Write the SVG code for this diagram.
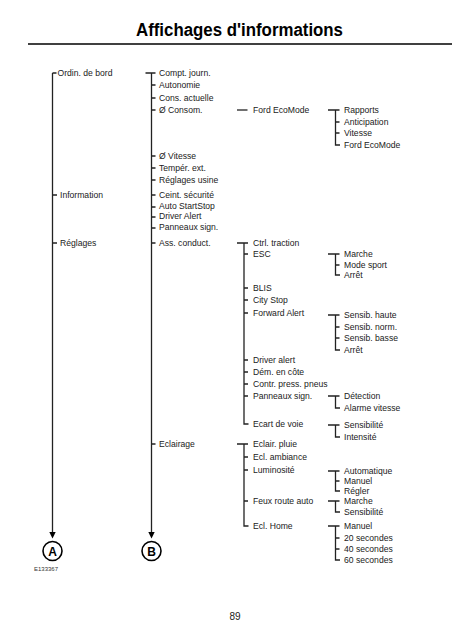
<svg xmlns="http://www.w3.org/2000/svg" width="466" height="640" viewBox="0 0 466 640">
<style>
.t{font-family:"Liberation Sans",Arial,Helvetica,sans-serif;font-size:8.6px;fill:#1a1a1a}
.ln{fill:none;stroke:#222;stroke-width:1.3}
.title{font-family:"Liberation Sans",Arial,sans-serif;font-size:18px;font-weight:bold;fill:#000}
.circ{fill:#fff;stroke:#000;stroke-width:1.6}
.cl{font-family:"Liberation Sans",Arial,sans-serif;font-size:12px;font-weight:bold;fill:#000;text-anchor:middle}
</style>
<rect width="466" height="640" fill="#fff"/>
<g id="title">
<text class="title" x="136" y="36" textLength="207" lengthAdjust="spacingAndGlyphs">Affichages d'informations</text>
<line x1="28" y1="44" x2="452" y2="44" stroke="#000" stroke-width="1.3"/>
</g>
<g id="connectors">
<path class="ln" d="M52.5 73H56.5M52.5 73V533M52.5 195H57M52.5 243H57"/>
<polygon points="49.3,532 55.7,532 52.5,538.5" fill="#000"/>
<path class="ln" d="M145.5 73H155.5M151.5 73V533M151.5 85H155.5M151.5 98H155.5M151.5 110H155.5M151.5 156H155.5M151.5 168H155.5M151.5 180H155.5M151.5 195H155.5M151.5 207H155.5M151.5 217H155.5M151.5 228H155.5M151.5 243H155.5M151.5 444H155.5"/>
<polygon points="148.3,532 154.7,532 151.5,538.5" fill="#000"/>
<path class="ln" d="M237 110H247.5"/>
<path class="ln" d="M237 243H248M244 243V424H248.5M244 254H248M244 288H248M244 300H248M244 313H248M244 360H248M244 372H248M244 384H248M244 396H248"/>
<path class="ln" d="M237 444H248M244 444V526H248.5M244 457H248M244 470H248M244 501H248"/>
<path class="ln" d="M328 110H339.5M335.5 110V145H340M335.5 122H339.5M335.5 133H339.5"/>
<path class="ln" d="M328 254H339.5M335.5 254V275H340M335.5 265H339.5"/>
<path class="ln" d="M328 315H339.5M335.5 315V350H340M335.5 327H339.5M335.5 338H339.5"/>
<path class="ln" d="M328 396H339.5M335.5 396V408H340"/>
<path class="ln" d="M328 425H339.5M335.5 425V437H340"/>
<path class="ln" d="M328 471H339.5M335.5 471V491H340M335.5 481H339.5"/>
<path class="ln" d="M328 501H339.5M335.5 501V512H340"/>
<path class="ln" d="M328 526H339.5M335.5 526V560H340M335.5 538H339.5M335.5 549H339.5"/>
</g>
<g id="col-a">
<g id="a-ordin"><text class="t" x="57.5" y="76">Ordin. de bord</text></g>
<g id="a-information"><text class="t" x="60" y="198">Information</text></g>
<g id="a-reglages"><text class="t" x="60" y="246">Réglages</text></g>
</g>
<g id="col-b">
<g id="b-compt"><text class="t" x="159" y="76">Compt. journ.</text></g>
<g id="b-autonomie"><text class="t" x="159" y="88">Autonomie</text></g>
<g id="b-cons"><text class="t" x="159" y="101">Cons. actuelle</text></g>
<g id="b-consom"><text class="t" x="159" y="113">Ø Consom.</text></g>
<g id="b-vitesse"><text class="t" x="159" y="159">Ø Vitesse</text></g>
<g id="b-temper"><text class="t" x="159" y="171">Tempér. ext.</text></g>
<g id="b-reglages-usine"><text class="t" x="159" y="183">Réglages usine</text></g>
<g id="b-ceint"><text class="t" x="159" y="198">Ceint. sécurité</text></g>
<g id="b-autostart"><text class="t" x="159" y="209">Auto StartStop</text></g>
<g id="b-driver-alert"><text class="t" x="159" y="219">Driver Alert</text></g>
<g id="b-panneaux"><text class="t" x="159" y="230">Panneaux sign.</text></g>
<g id="b-ass"><text class="t" x="159" y="246">Ass. conduct.</text></g>
<g id="b-eclairage"><text class="t" x="159" y="447">Eclairage</text></g>
</g>
<g id="col-c">
<g id="c-fordeco"><text class="t" x="253" y="113">Ford EcoMode</text></g>
<g id="c-ctrl"><text class="t" x="253" y="246">Ctrl. traction</text></g>
<g id="c-esc"><text class="t" x="253" y="257">ESC</text></g>
<g id="c-blis"><text class="t" x="253" y="291">BLIS</text></g>
<g id="c-city"><text class="t" x="253" y="303">City Stop</text></g>
<g id="c-forward"><text class="t" x="253" y="316">Forward Alert</text></g>
<g id="c-driver"><text class="t" x="253" y="363">Driver alert</text></g>
<g id="c-dem"><text class="t" x="253" y="375">Dém. en côte</text></g>
<g id="c-contr"><text class="t" x="253" y="387">Contr. press. pneus</text></g>
<g id="c-panneaux"><text class="t" x="253" y="399">Panneaux sign.</text></g>
<g id="c-ecart"><text class="t" x="253" y="427">Ecart de voie</text></g>
<g id="c-eclair"><text class="t" x="253" y="447">Eclair. pluie</text></g>
<g id="c-ambiance"><text class="t" x="253" y="460">Ecl. ambiance</text></g>
<g id="c-lumin"><text class="t" x="253" y="473">Luminosité</text></g>
<g id="c-feux"><text class="t" x="253" y="504">Feux route auto</text></g>
<g id="c-home"><text class="t" x="253" y="529">Ecl. Home</text></g>
</g>
<g id="col-d">
<g id="d-rapports"><text class="t" x="344" y="113">Rapports</text></g>
<g id="d-anticipation"><text class="t" x="344" y="125">Anticipation</text></g>
<g id="d-vitesse"><text class="t" x="344" y="136">Vitesse</text></g>
<g id="d-fordeco"><text class="t" x="344" y="148">Ford EcoMode</text></g>
<g id="d-marche"><text class="t" x="344" y="257">Marche</text></g>
<g id="d-modesport"><text class="t" x="344" y="268">Mode sport</text></g>
<g id="d-arret"><text class="t" x="344" y="278">Arrêt</text></g>
<g id="d-sh"><text class="t" x="344" y="318">Sensib. haute</text></g>
<g id="d-sn"><text class="t" x="344" y="330">Sensib. norm.</text></g>
<g id="d-sb"><text class="t" x="344" y="341">Sensib. basse</text></g>
<g id="d-arret2"><text class="t" x="344" y="353">Arrêt</text></g>
<g id="d-detection"><text class="t" x="344" y="399">Détection</text></g>
<g id="d-alarme"><text class="t" x="344" y="411">Alarme vitesse</text></g>
<g id="d-sensib"><text class="t" x="344" y="428">Sensibilité</text></g>
<g id="d-intensite"><text class="t" x="344" y="440">Intensité</text></g>
<g id="d-auto"><text class="t" x="344" y="474">Automatique</text></g>
<g id="d-manuel"><text class="t" x="344" y="484">Manuel</text></g>
<g id="d-regler"><text class="t" x="344" y="494">Régler</text></g>
<g id="d-marche2"><text class="t" x="344" y="504">Marche</text></g>
<g id="d-sensib2"><text class="t" x="344" y="515">Sensibilité</text></g>
<g id="d-manuel2"><text class="t" x="344" y="529">Manuel</text></g>
<g id="d-s20"><text class="t" x="344" y="541">20 secondes</text></g>
<g id="d-s40"><text class="t" x="344" y="552">40 secondes</text></g>
<g id="d-s60"><text class="t" x="344" y="563">60 secondes</text></g>
</g>
<g id="node-a"><circle class="circ" cx="52.5" cy="551" r="9.5"/><text class="cl" x="52.5" y="555.5">A</text></g>
<g id="node-b"><circle class="circ" cx="151.5" cy="551" r="9.5"/><text class="cl" x="151.5" y="555.5">B</text></g>
<g id="ref"><text x="34" y="571" style="font-family:'Liberation Sans',Arial,sans-serif;font-size:6px;fill:#333">E133367</text></g>
<g id="page"><text x="235" y="620" text-anchor="middle" style="font-family:'Liberation Sans',Arial,sans-serif;font-size:10px;fill:#222">89</text></g>
</svg>
